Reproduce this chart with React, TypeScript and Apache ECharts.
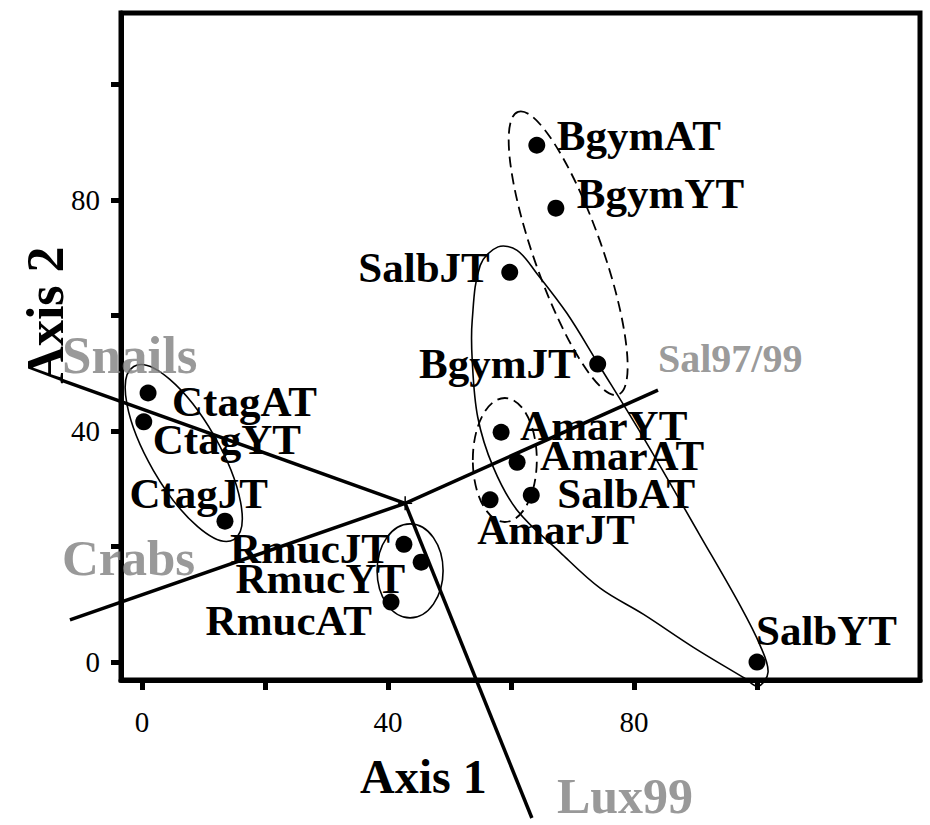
import React, { useEffect, useRef } from "react";
import * as echarts from "echarts";

// ---- Data (NMS ordination scores) ----
const siteNames = ["BgymAT", "BgymYT", "SalbJT", "BgymJT", "AmarYT", "AmarAT", "SalbAT", "AmarJT", "SalbYT", "CtagAT", "CtagYT", "CtagJT", "RmucJT", "RmucYT", "RmucAT"];
const axis1Scores = [64.2, 67.3, 59.8, 74.1, 58.4, 61.0, 63.3, 56.6, 100.0, 1.0, 0.3, 13.5, 42.6, 45.4, 40.5];
const axis2Scores = [89.5, 78.6, 67.5, 51.6, 39.8, 34.6, 28.9, 28.1, 0.0, 46.6, 41.6, 24.4, 20.4, 17.3, 10.4];

// joint-plot vectors (radiating from the centroid)
const vectorCentroid = [42.8, 27.5];
const vectorNames = ["Snails", "Crabs", "Sal97/99", "Lux99"];
const vectorEndX = [-13.0, -11.7, 83.9, 63.4];
const vectorEndY = [48.8, 7.3, 47.1, -27.0];

// axis ticks
const tickValues = [0, 20, 40, 60, 80, 100];
const tickLabels = [0, 40, 80];

// group outlines (annotation): centre in data units
const ellipseCentreX = [6.8, 43.6, 59.0, 69.3];
const ellipseCentreY = [36.2, 15.8, 35.0, 70.8];
// Salb outline, in data units
const salbOutlineX = [57.9, 61.0, 64.2, 69.1, 74.1, 81.8, 90.7, 97.2, 100.5, 101.8, 100.2, 98.0, 89.6, 81.5, 74.5, 68.0, 61.0, 57.1, 54.6, 53.7, 53.7, 55.0];
const salbOutlineY = [71.9, 71.3, 67.3, 60.4, 51.8, 38.4, 22.0, 9.9, 2.9, -1.7, -4.2, -2.8, 2.6, 8.3, 12.8, 19.0, 26.3, 33.8, 42.4, 52.3, 59.2, 68.7];

// ---- styling / placement (kept separate from data) ----
const ellipseShapes = [
  { rx: 100, ry: 35, rot: -60, dashed: false },
  { rx: 33, ry: 47, rot: 0, dashed: false },
  { rx: 32, ry: 62, rot: 0, dashed: true },
  { rx: 150, ry: 34, rot: -70.5, dashed: true },
];
const siteLabelPlacement: Record<string, [string, number, number]> = {
  BgymAT: ["left", 20, -10],
  BgymYT: ["left", 21, -15],
  SalbJT: ["right", -20, -5],
  BgymJT: ["right", -21, -1],
  AmarYT: ["left", 19, -7],
  AmarAT: ["left", 23, -7],
  SalbAT: ["left", 26, -2],
  AmarJT: ["center", 66, 30],
  SalbYT: ["left", -1, -32],
  CtagAT: ["left", 24, 9],
  CtagYT: ["left", 9, 18],
  CtagJT: ["right", 43, -28],
  RmucJT: ["right", -14, 4],
  RmucYT: ["right", -16, 16],
  RmucAT: ["right", -19, 18],
};
const vectorLabelPlacement: Record<string, [string, number, number, number]> = {
  Snails: ["left", 0, -25, 53],
  Crabs: ["left", -8, -62, 51],
  "Sal97/99": ["left", 0, -32, 40],
  Lux99: ["left", 25, -22, 50],
};

const FONT = "'Liberation Serif', 'Times New Roman', serif";

export default function App() {
  const ref = useRef<HTMLDivElement>(null);
  useEffect(() => {
    if (!ref.current) return;
    const chart = echarts.init(ref.current, null, { renderer: "svg" });

    const siteData = siteNames.map((n, i) => {
      const p = siteLabelPlacement[n];
      return {
        name: n,
        value: [axis1Scores[i], axis2Scores[i]],
        label: {
          show: true,
          formatter: n,
          position: "inside",
          align: p[0],
          verticalAlign: "middle",
          offset: [p[1], p[2]],
          color: "#000",
          fontFamily: FONT,
          fontWeight: "bold",
          fontSize: 43,
        },
      };
    });

    const vectorLabelData = vectorNames.map((n, i) => {
      const p = vectorLabelPlacement[n];
      return {
        name: n,
        value: [vectorEndX[i], vectorEndY[i]],
        label: {
          show: true,
          formatter: n,
          position: "inside",
          align: p[0],
          verticalAlign: "middle",
          offset: [p[1], p[2]],
          color: "#808080",
          fontFamily: FONT,
          fontWeight: "bold",
          fontSize: p[3],
          lineHeight: p[3] * 0.9,
        },
      };
    });

    const option: any = {
      animation: false,
      backgroundColor: "#fff",
      grid: {
        left: 121,
        right: 10,
        top: 13,
        bottom: 145,
        show: true,
        borderColor: "#000",
        borderWidth: 5,
        outerBoundsMode: "none",
      },
      xAxis: {
        type: "value",
        min: -3.4,
        max: 126.5,
        axisLine: { show: true, onZero: false, lineStyle: { color: "#000", width: 5 } },
        axisTick: { show: true, customValues: tickValues, length: 10, lineStyle: { color: "#000", width: 5 } },
        axisLabel: { customValues: tickLabels, margin: 27, color: "#000", fontFamily: FONT, fontSize: 29 },
        splitLine: { show: false },
      },
      yAxis: {
        type: "value",
        min: -3.1,
        max: 112.4,
        axisLine: { show: true, onZero: false, lineStyle: { color: "#000", width: 5 } },
        axisTick: { show: true, customValues: tickValues, length: 10, lineStyle: { color: "#000", width: 5 } },
        axisLabel: { customValues: tickLabels, margin: 21, color: "#000", fontFamily: FONT, fontSize: 29 },
        splitLine: { show: false },
      },
      graphic: [
        {
          type: "text",
          left: 360,
          top: 752,
          style: { text: "Axis 1", fill: "#000", font: `bold 48px ${FONT}` },
        },
        {
          type: "text",
          x: 45,
          y: 315,
          rotation: Math.PI / 2,
          style: { text: "Axis 2", fill: "#000", font: `bold 52px ${FONT}`, align: "center", verticalAlign: "middle" },
        },
      ],
      series: [
        {
          type: "custom",
          silent: true,
          clip: false,
          data: ellipseCentreX.map((x, i) => [x, ellipseCentreY[i]]),
          encode: { x: 0, y: 1 },
          renderItem: (params: any, api: any) => {
            const e = ellipseShapes[params.dataIndex];
            const c = api.coord([api.value(0), api.value(1)]);
            return {
              type: "ellipse",
              x: c[0],
              y: c[1],
              rotation: (e.rot * Math.PI) / 180,
              shape: { cx: 0, cy: 0, rx: e.rx, ry: e.ry },
              style: { fill: "none", stroke: "#000", lineWidth: e.dashed ? 1.8 : 1.6, lineDash: e.dashed ? [11, 6] : null },
            };
          },
          z: 2,
        },
        {
          type: "custom",
          silent: true,
          clip: false,
          data: [[salbOutlineX[0], salbOutlineY[0]]],
          encode: { x: 0, y: 1 },
          renderItem: (params: any, api: any) => {
            const pts = salbOutlineX.map((x, i) => api.coord([x, salbOutlineY[i]]));
            return {
              type: "polygon",
              shape: { points: pts, smooth: 0.35 },
              style: { fill: "none", stroke: "#000", lineWidth: 1.6 },
            };
          },
          z: 2,
        },
        {
          type: "custom",
          silent: true,
          clip: false,
          data: vectorEndX.map((x, i) => [x, vectorEndY[i]]),
          encode: { x: 0, y: 1 },
          renderItem: (params: any, api: any) => {
            const c = api.coord(vectorCentroid);
            const e = api.coord([api.value(0), api.value(1)]);
            return {
              type: "line",
              shape: { x1: c[0], y1: c[1], x2: e[0], y2: e[1] },
              style: { stroke: "#000", lineWidth: 3.5 },
            };
          },
          z: 3,
        },
        {
          type: "custom",
          silent: true,
          clip: false,
          data: [vectorCentroid],
          encode: { x: 0, y: 1 },
          renderItem: (params: any, api: any) => {
            const c = api.coord([api.value(0), api.value(1)]);
            return {
              type: "group",
              children: [
                { type: "line", shape: { x1: c[0] - 7, y1: c[1], x2: c[0] + 7, y2: c[1] }, style: { stroke: "#000", lineWidth: 1.5 } },
                { type: "line", shape: { x1: c[0], y1: c[1] - 7, x2: c[0], y2: c[1] + 7 }, style: { stroke: "#000", lineWidth: 1.5 } },
              ],
            };
          },
          z: 4,
        },
        {
          type: "scatter",
          clip: false,
          silent: true,
          symbol: "circle",
          symbolSize: 0.1,
          itemStyle: { color: "rgba(0,0,0,0)" },
          data: vectorLabelData,
          z: 5,
        },
        {
          type: "scatter",
          clip: false,
          silent: true,
          symbol: "circle",
          symbolSize: 17,
          itemStyle: { color: "#000", opacity: 1 },
          data: siteData,
          z: 6,
        },
      ],
    };
    chart.setOption(option);
    return () => chart.dispose();
  }, []);
  return (
    <div
      ref={ref}
      style={{ position: "fixed", left: 0, top: 0, width: 930, height: 825, background: "#fff" }}
    />
  );
}
